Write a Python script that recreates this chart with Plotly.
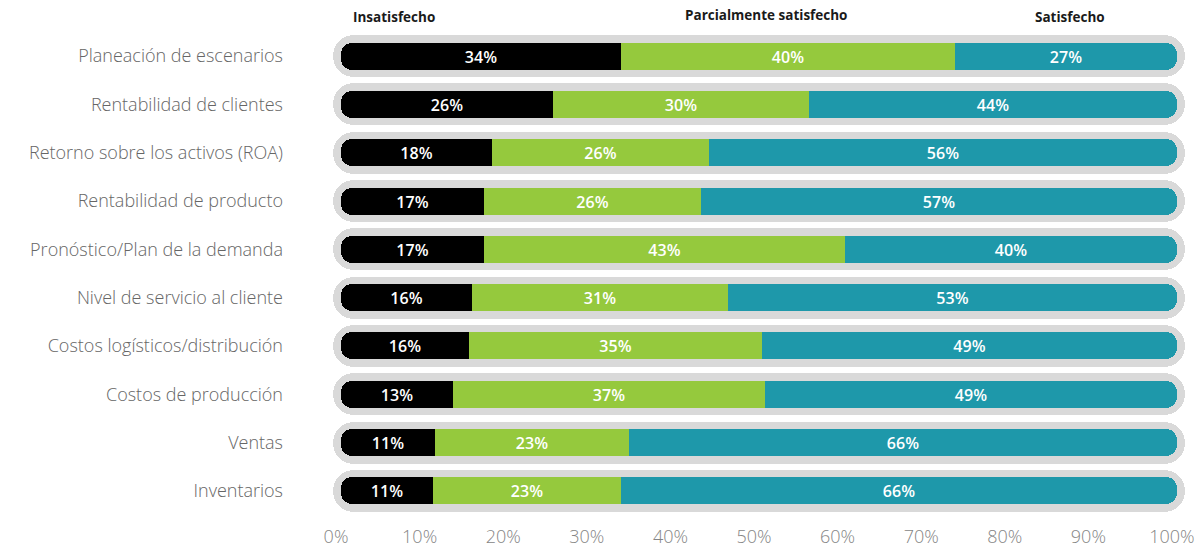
import plotly.graph_objects as go

categories = [
    "Planeación de escenarios",
    "Rentabilidad de clientes",
    "Retorno sobre los activos (ROA)",
    "Rentabilidad de producto",
    "Pronóstico/Plan de la demanda",
    "Nivel de servicio al cliente",
    "Costos logísticos/distribución",
    "Costos de producción",
    "Ventas",
    "Inventarios",
]
insatisfecho = [33.5, 25.3, 18.0, 17.1, 17.1, 15.7, 15.3, 13.4, 11.3, 11.0]
parcial = [39.9, 30.7, 26.0, 26.0, 43.2, 30.6, 35.1, 37.3, 23.1, 22.5]
satisfecho = [26.6, 44.0, 56.0, 56.9, 39.7, 53.7, 49.6, 49.3, 65.6, 66.5]

lbl_insat = ["34%", "26%", "18%", "17%", "17%", "16%", "16%", "13%", "11%", "11%"]
lbl_parcial = ["40%", "30%", "26%", "26%", "43%", "31%", "35%", "37%", "23%", "23%"]
lbl_satis = ["27%", "44%", "56%", "57%", "40%", "53%", "49%", "49%", "66%", "66%"]

series_names = ["Insatisfecho", "Parcialmente satisfecho", "Satisfecho"]
tick_vals = [0, 10, 20, 30, 40, 50, 60, 70, 80, 90, 100]
tick_text = [f"{v}%" for v in tick_vals]

BLACK = "#000000"
GREEN = "#95c93d"
TEAL = "#1e98aa"
GREY = "#d9d9d9"

n = len(categories)
pad = 0.95
outer_w = 0.87
inner_w = 0.56
R_IN = 11

ends_black = insatisfecho
ends_green = [a + b for a, b in zip(insatisfecho, parcial)]
totals = [a + b + c for a, b, c in zip(insatisfecho, parcial, satisfecho)]

fig = go.Figure()

# grey pill background
fig.add_trace(go.Bar(y=categories, x=[t + 2 * pad for t in totals], base=[-pad] * n,
                     orientation="h", width=outer_w,
                     marker=dict(color=GREY, cornerradius=21, line_width=0),
                     hoverinfo="skip", showlegend=False))
# underlays so the rounded corners only show at the outer ends
fig.add_trace(go.Bar(y=categories, x=ends_green, base=[0] * n, orientation="h",
                     width=inner_w, marker=dict(color=BLACK, cornerradius=R_IN, line_width=0),
                     hoverinfo="skip", showlegend=False))
fig.add_trace(go.Bar(y=categories, x=[t - b for t, b in zip(totals, ends_black)],
                     base=ends_black, orientation="h", width=inner_w,
                     marker=dict(color=TEAL, cornerradius=R_IN, line_width=0),
                     hoverinfo="skip", showlegend=False))

txtfont = dict(family="Open Sans, sans-serif", size=16, color="white", weight=600)
common = dict(orientation="h", width=inner_w, textposition="inside",
              insidetextanchor="middle", textangle=0, constraintext="none",
              textfont=txtfont, showlegend=False)

fig.add_trace(go.Bar(y=categories, x=parcial, base=ends_black, name=series_names[1],
                     marker=dict(color=GREEN, line_width=0), text=lbl_parcial, **common))
fig.add_trace(go.Bar(y=categories, x=satisfecho, base=ends_green, name=series_names[2],
                     marker=dict(color=TEAL, cornerradius=R_IN, line_width=0),
                     text=lbl_satis, **common))
fig.add_trace(go.Bar(y=categories, x=insatisfecho, base=[0] * n, name=series_names[0],
                     marker=dict(color=BLACK, cornerradius=R_IN, line_width=0),
                     text=lbl_insat, **common))

hdr_font = dict(family="Open Sans, sans-serif", size=13.5, color="#1a1a1a", weight=700)
for name, xpos, yshift in [(series_names[0], 6.3, 4), (series_names[1], 50.8, 6),
                           (series_names[2], 87.2, 4)]:
    fig.add_annotation(x=xpos, y=1.0, xref="x", yref="paper", yanchor="bottom",
                       yshift=yshift, text=name, showarrow=False, font=hdr_font)

fig.update_layout(
    barmode="overlay",
    width=1202, height=550,
    margin=dict(l=331, r=15, t=32, b=35, autoexpand=False),
    plot_bgcolor="white", paper_bgcolor="white",
    font=dict(family="Open Sans, sans-serif"),
    bargap=0,
    uniformtext=dict(minsize=16, mode="show"),
)
fig.update_xaxes(range=[-1.2, 101.2], tickvals=tick_vals, ticktext=tick_text,
                 showgrid=False, zeroline=False, showline=False, ticks="",
                 automargin=False, ticklabelstandoff=9, ticklabelshift=-5,
                 tickfont=dict(family="Open Sans, sans-serif", size=18, color="#858585", weight=300))
fig.update_yaxes(categoryorder="array", categoryarray=categories, range=[n - 0.5, -0.5],
                 showgrid=False, zeroline=False, showline=False, ticks="",
                 automargin=False, ticklabelstandoff=47,
                 tickfont=dict(family="Open Sans, sans-serif", size=18, color="#666666", weight=300))

fig.write_html("out.html")
